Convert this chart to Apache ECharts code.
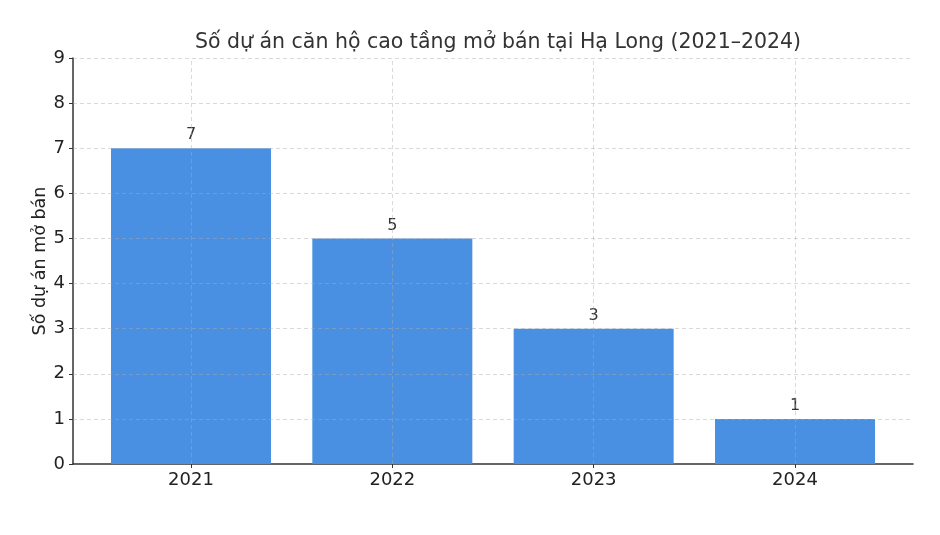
<!DOCTYPE html>
<html><head><meta charset="utf-8">
<script src="https://cdn.jsdelivr.net/npm/echarts@6/dist/echarts.min.js"></script>
<style>html,body{margin:0;padding:0;background:#fff}#c{width:940px;height:535px}</style>
</head><body><div id="c"></div>
<script>
const categories = ['2021', '2022', '2023', '2024'];
const projectCounts = [7, 5, 3, 1];
const yTicks = [0, 1, 2, 3, 4, 5, 6, 7, 8, 9];
const titleText = 'Số dự án căn hộ cao tầng mở bán tại Hạ Long (2021–2024)';
const yAxisName = 'Số dự án mở bán';

const positions = categories.map((c, i) => i);
const FONT = 'DejaVu Sans';
const GRID = 'rgba(170,170,170,0.45)';
const chart = echarts.init(document.getElementById('c'), null, {renderer: 'canvas'});
chart.setOption({
  animation: false,
  textStyle: {fontFamily: FONT},
  title: {
    text: titleText, left: 493, top: 27, textAlign: 'center',
    textStyle: {fontFamily: FONT, fontSize: 20.5, fontWeight: 'normal', color: '#333'}
  },
  grid: {left: 73, right: 27, top: 58, bottom: 71},
  xAxis: {
    type: 'value', min: -0.586, max: 3.586,
    axisLine: {show: true, onZero: false, lineStyle: {color: '#333', width: 1.5}},
    axisTick: {show: true, customValues: positions, length: 4, lineStyle: {color: '#333'}},
    axisLabel: {
      customValues: positions, margin: 7, fontSize: 18, color: '#222', fontFamily: FONT,
      formatter: v => categories[Math.round(v)]
    },
    splitLine: {show: false}
  },
  yAxis: {
    type: 'value', min: yTicks[0], max: yTicks[yTicks.length - 1], interval: 1,
    name: yAxisName, nameLocation: 'middle', nameGap: 24, nameMoveOverlap: false,
    nameTextStyle: {fontSize: 17.5, color: '#222', fontFamily: FONT},
    axisLine: {show: true, onZero: false, lineStyle: {color: '#333', width: 1.5}},
    axisTick: {show: true, length: 4, lineStyle: {color: '#333'}},
    axisLabel: {fontSize: 18, color: '#222', margin: 8, fontFamily: FONT},
    splitLine: {show: false}
  },
  series: [{
    type: 'bar',
    data: projectCounts.map((v, i) => [positions[i], v]),
    barWidth: 160,
    itemStyle: {color: '#4a90e2'},
    label: {show: true, position: 'top', distance: 5, fontSize: 16, color: '#333', fontFamily: FONT},
    markLine: {
      silent: true, symbol: 'none', label: {show: false},
      lineStyle: {type: [4, 3], color: GRID, width: 1},
      data: positions.map(p => ({xAxis: p})).concat(yTicks.slice(1).map(t => ({yAxis: t})))
    },
    z: 2
  }]
});
</script></body></html>
